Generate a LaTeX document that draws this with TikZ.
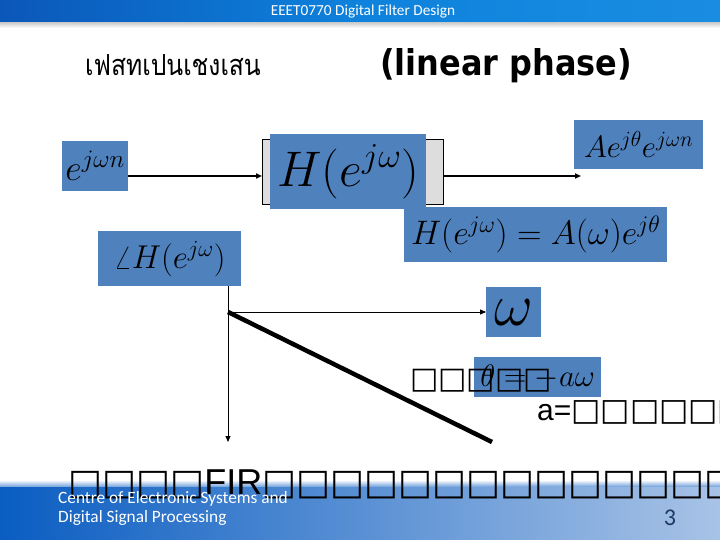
\RequirePackage{fix-cm}
\documentclass[tikz,border=0pt]{standalone}
\usepackage{fontspec}
\usetikzlibrary{arrows.meta,calc}
\newfontfamily\thaifont[Script=Thai,FakeStretch=0.85]{Loma}
\newfontfamily\slidefont{Carlito}
\newfontfamily\titlefont{DejaVu Sans Condensed}
\newfontfamily\arialfont{Liberation Sans}
\newfontfamily\boxfont{DejaVu Sans}
\definecolor{boxblue}{HTML}{4F81BD}
\definecolor{blockgray}{HTML}{DDDDDD}
\definecolor{barleft}{HTML}{0B57B9}
\definecolor{barmid}{HTML}{0E82DC}
\definecolor{barright}{HTML}{1A8DE2}
\definecolor{footleft}{HTML}{0A5DC2}
\definecolor{footright}{HTML}{A8C3E6}
\definecolor{pagenavy}{HTML}{1F3864}
\newcommand{\fsz}[1]{\fontsize{#1}{#1}\selectfont}

\begin{document}
\begin{tikzpicture}[x=1pt,y=-1pt,>={Triangle[length=6pt,width=5pt]}]
  \tikzset{
    bluebox/.style={fill=boxblue,inner sep=0pt,anchor=north west},
    conn/.style={->,line width=1.6pt},
    thinconn/.style={->,line width=0.9pt},
    words/.style={inner sep=0pt,anchor=base west}
  }
  \useasboundingbox (0,0) rectangle (720,540);
  \fill[white] (0,0) rectangle (720,540);
  % header and footer bars
  \shade[left color=barleft,right color=barright,middle color=barmid] (0,0) rectangle (720,23);
  \shade[top color=black!18,bottom color=white] (0,23) rectangle (720,28);
  \shade[top color=white,bottom color=footleft!60] (0,480) rectangle (720,487);
  \shade[left color=footleft,right color=footright] (0,487) rectangle (720,540);
  \node[text=white,font=\slidefont\fsz{15.3}] (hdr) at (363,12) {EEET0770 Digital Filter Design};
  % titles
  \node[words,font=\thaifont\fsz{29}] (thtitle) at (85,76) {เฟสทเปนเชงเสน};
  \node[words,font=\titlefont\bfseries\fsz{35.5}] (lintitle) at (380,76) {(linear phase)};
  % system block
  \node[bluebox,minimum width=66pt,minimum height=50pt,font=\fsz{36}] (ein) at (62,141) {$e^{j\omega n}$};
  \node[draw,fill=blockgray,line width=0.8pt,anchor=north west,minimum width=181pt,minimum height=65pt] (blk) at (262,139) {};
  \node[bluebox,minimum width=156pt,minimum height=75pt,font=\fsz{50}] (hbox) at (270,134) {$H(e^{j\omega})$};
  \node[bluebox,minimum width=129pt,minimum height=49pt,font=\fsz{31}] (aout) at (574,120) {$Ae^{j\theta}e^{j\omega n}$};
  \node[bluebox,minimum width=263pt,minimum height=55pt,font=\fsz{34}] (hpolar) at (404,207) {$H(e^{j\omega})=A(\omega)e^{j\theta}$};
  \coordinate (inrow) at (0,176);
  \coordinate (outend) at (581,176);
  \draw[conn] (ein.east |- inrow) -- (blk.west |- inrow);
  \draw[conn] (blk.east |- inrow) -- (outend);
  % phase plot
  \node[bluebox,minimum width=143pt,minimum height=55pt,font=\fsz{33}] (angH) at (98,231) {$\angle H(e^{j\omega})$};
  \node[bluebox,minimum width=55pt,minimum height=50pt,font=\fsz{60}] (omega) at (486,287) {$\omega$};
  \node[bluebox,minimum width=127pt,minimum height=40pt,font=\fsz{31}] (thbox) at (474,357) {$\theta=-a\omega$};
  \coordinate (orig) at (228,312);
  \coordinate (vend) at (228,442);
  \coordinate (slopeend) at (492,442);
  \draw[thinconn] (angH.south -| orig) -- (vend);
  \draw[thinconn] (orig) -- (omega.west |- orig);
  \draw[line width=4.5pt] (orig) -- (slopeend);
  % broken text lines
  \node[words,font=\boxfont\fsz{30}] (tofuA) at (410,388) {□□□□□};
  \node[words,font=\arialfont\fsz{30}] (tofuB) at (537,420) {a=\boxfont\fsz{31}□□□□□□};
  \node[words,font=\boxfont\fsz{36}] (tofuC) at (68,494) {□□□□\arialfont FIR\boxfont □□□□□□□□□□□□□□};
  % footer
  \node[words,text=white,font=\slidefont\fsz{17.3}] (centre) at (58,503) {Centre of Electronic Systems and};
  \node[words,text=white,font=\slidefont\fsz{17.3}] (dsp) at (58,522) {Digital Signal Processing};
  \node[text=pagenavy,font=\slidefont\fsz{24},inner sep=0pt,anchor=base] (pagenum) at (670,525) {3};
\end{tikzpicture}
\end{document}
